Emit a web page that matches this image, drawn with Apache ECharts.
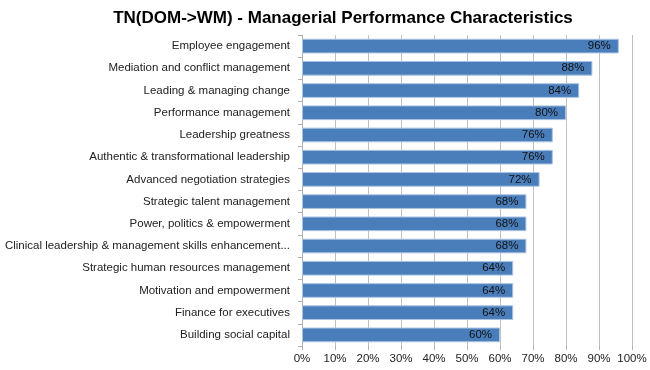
<!DOCTYPE html>
<html><head><meta charset="utf-8">
<script src="https://cdn.jsdelivr.net/npm/echarts@6/dist/echarts.min.js"></script>
<style>html,body{margin:0;padding:0;background:#fff}#c{width:650px;height:370px}</style>
</head><body><div id="c"></div>
<script>
const title = 'TN(DOM->WM) - Managerial Performance Characteristics';
const categories = [
  'Employee engagement',
  'Mediation and conflict management',
  'Leading & managing change',
  'Performance management',
  'Leadership greatness',
  'Authentic & transformational leadership',
  'Advanced negotiation strategies',
  'Strategic talent management',
  'Power, politics & empowerment',
  'Clinical leadership & management skills enhancement...',
  'Strategic human resources management',
  'Motivation and empowerment',
  'Finance for executives',
  'Building social capital'
];
const values = [96, 88, 84, 80, 76, 76, 72, 68, 68, 68, 64, 64, 64, 60];
const xTicks = [0, 10, 20, 30, 40, 50, 60, 70, 80, 90, 100];

const chart = echarts.init(document.getElementById('c'), null, {renderer: 'canvas'});
chart.setOption({
  animation: false,
  backgroundColor: '#fff',
  title: {
    text: title, left: 338, top: 5, textAlign: 'center',
    textStyle: {fontFamily: 'Liberation Sans, Arial', fontSize: 17, fontWeight: 'bold', color: '#000'}
  },
  grid: {left: 302, right: 18, top: 35, bottom: 24, containLabel: false, outerBoundsMode: 'none'},
  xAxis: {
    type: 'value', min: 0, max: 100, interval: 10,
    axisLine: {show: false},
    axisTick: {show: true, length: 4, lineStyle: {color: '#b0b0b0'}},
    splitLine: {show: true, lineStyle: {color: '#c0c0c0', width: 1}},
    axisLabel: {
      formatter: v => xTicks.includes(v) ? v + '%' : '',
      fontFamily: 'Liberation Sans, Arial', fontSize: 11.5, color: '#222', margin: 7
    }
  },
  yAxis: {
    type: 'category', data: categories, inverse: true,
    axisLine: {show: true, lineStyle: {color: '#b0b0b0'}},
    axisTick: {show: true, length: 4, lineStyle: {color: '#b0b0b0'}},
    axisLabel: {fontFamily: 'Liberation Sans, Arial', fontSize: 11.5, color: '#222', margin: 12}
  },
  series: [{
    type: 'bar', data: values, barCategoryGap: '34%',
    itemStyle: {color: '#4a7ebb', borderColor: '#a9c3e3', borderWidth: 1},
    label: {
      show: true, position: 'insideRight', distance: 8,
      formatter: p => p.value + '%',
      fontFamily: 'Liberation Sans, Arial', fontSize: 11.5, color: '#111'
    }
  }]
});
</script></body></html>
